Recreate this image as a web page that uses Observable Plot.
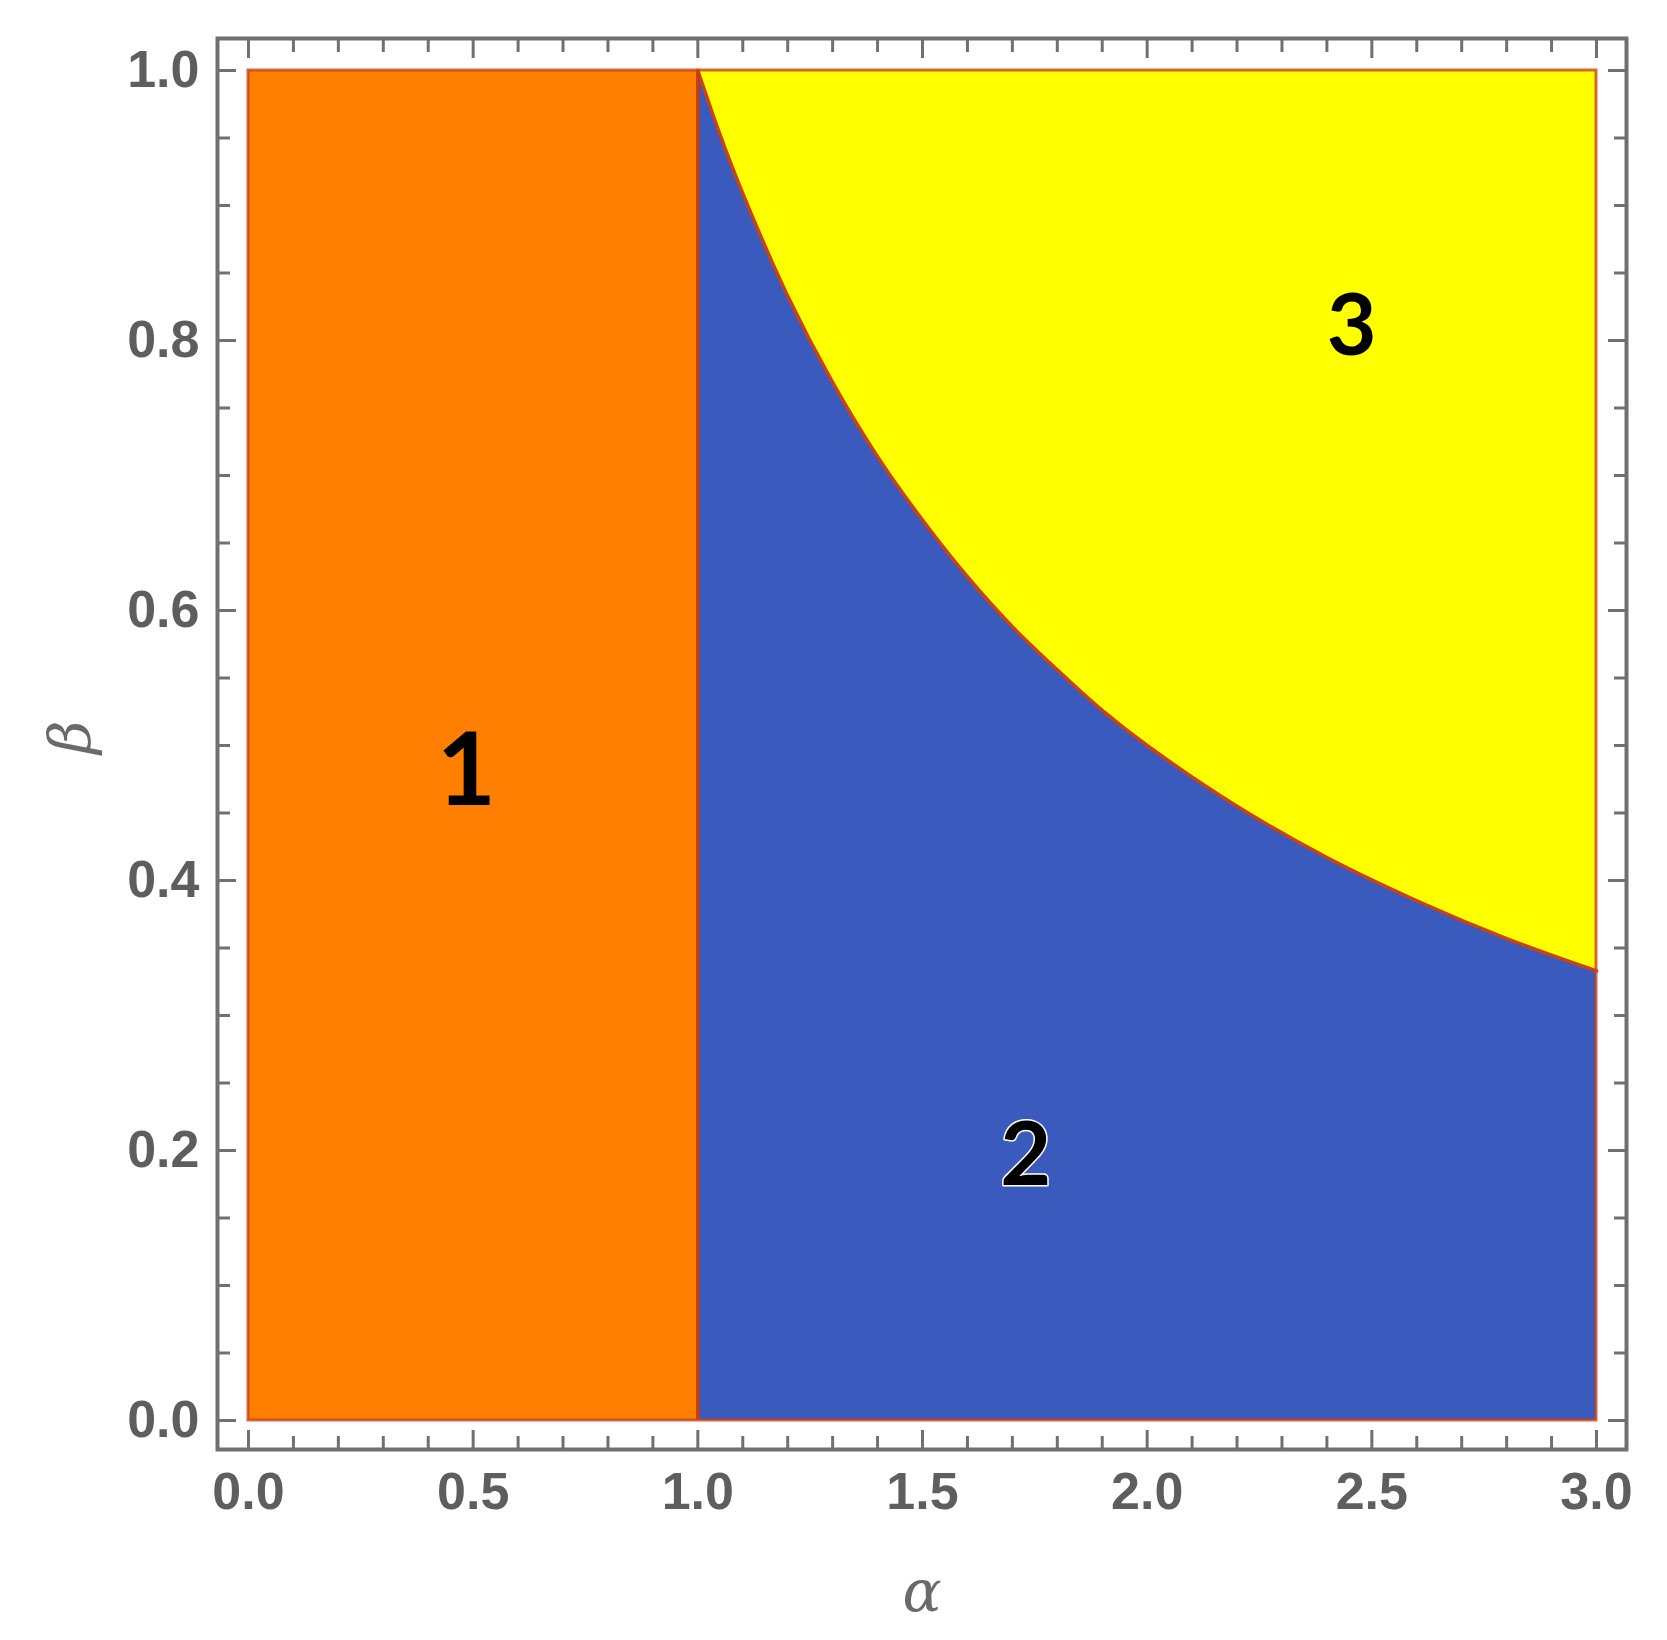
<!DOCTYPE html>
<html>
<head>
<meta charset="utf-8">
<script src="https://cdn.jsdelivr.net/npm/d3@7"></script>
<script src="https://cdn.jsdelivr.net/npm/@observablehq/plot@0.6"></script>
<style>
  body { margin: 0; background: #fff; }
  #chart svg { display: block; }
</style>
</head>
<body>
<div id="chart"></div>
<script>
// ---- data ----
const alphaDomain = [0, 3];
const betaDomain = [0, 1];

// region 1 spans alpha 0..1 for all beta
const region1Alpha = [0, 1];
// boundary between region 2 and region 3 (beta vs alpha)
const boundaryAlpha = [1.0, 1.05, 1.1, 1.2, 1.3, 1.4, 1.5, 1.6, 1.7, 1.8, 1.9, 2.0, 2.2, 2.4, 2.6, 2.8, 3.0];
const boundaryBeta  = [1.0, 0.952, 0.909, 0.833, 0.769, 0.714, 0.667, 0.625, 0.588, 0.556, 0.526, 0.5, 0.455, 0.417, 0.385, 0.357, 0.333];

// region labels
const regionLabels = ["1", "2", "3"];
const labelAlpha = [0.485, 1.73, 2.455];
const labelBeta  = [0.48, 0.195, 0.81];

// ticks
const xMajor = [0, 0.5, 1, 1.5, 2, 2.5, 3];
const xMinor = [0.1, 0.2, 0.3, 0.4, 0.6, 0.7, 0.8, 0.9, 1.1, 1.2, 1.3, 1.4, 1.6, 1.7, 1.8, 1.9,
                2.1, 2.2, 2.3, 2.4, 2.6, 2.7, 2.8, 2.9];
const yMajor = [0, 0.2, 0.4, 0.6, 0.8, 1.0];
const yMinor = [0.05, 0.1, 0.15, 0.25, 0.3, 0.35, 0.45, 0.5, 0.55, 0.65, 0.7, 0.75, 0.85, 0.9, 0.95];

const xTitle = "α";
const yTitle = "β";

// ---- tables ----
const boundary = boundaryAlpha.map((a, i) => ({alpha: a, beta: boundaryBeta[i]}));
const labels = regionLabels.map((t, i) => ({text: t, alpha: labelAlpha[i], beta: labelBeta[i]}));
const region1 = [{a1: region1Alpha[0], a2: region1Alpha[1], b1: betaDomain[0], b2: betaDomain[1]}];
const whole = [{a1: alphaDomain[0], a2: alphaDomain[1], b1: betaDomain[0], b2: betaDomain[1]}];

const ORANGE = "#ff8000", BLUE = "#3a5bbd", YELLOW = "#ffff00", EDGE = "#c8421a";
const AXIS = "#707070", TICKTEXT = "#5e5e5e";
const fmt = d3.format(".1f");

const tickStyle = {stroke: AXIS, strokeWidth: 3, fill: "none", label: null};
const textStyle = {tickSize: 0, fill: TICKTEXT, fontSize: 52, fontWeight: "bold", label: null, tickFormat: fmt};

const chart = Plot.plot({
  width: 1667,
  height: 1640,
  marginLeft: 217,
  marginRight: 41,
  marginTop: 38,
  marginBottom: 191,
  style: {fontFamily: "'Liberation Sans', Arial, sans-serif", background: "#fff"},
  x: {domain: alphaDomain, insetLeft: 31, insetRight: 30},
  y: {domain: betaDomain, insetTop: 32, insetBottom: 29},
  marks: [
    // regions
    Plot.rect(region1, {x1: "a1", x2: "a2", y1: "b1", y2: "b2", fill: ORANGE}),
    Plot.areaY(boundary, {x: "alpha", y1: betaDomain[0], y2: "beta", fill: BLUE, curve: "catmull-rom"}),
    Plot.areaY(boundary, {x: "alpha", y1: "beta", y2: betaDomain[1], fill: YELLOW, curve: "catmull-rom"}),
    // boundaries
    Plot.line(boundary, {x: "alpha", y: "beta", stroke: EDGE, strokeWidth: 3.5, curve: "catmull-rom"}),
    Plot.ruleX([region1Alpha[1]], {y1: betaDomain[0], y2: betaDomain[1], stroke: "#c43c0c", strokeWidth: 3.5}),
    Plot.rect(whole, {x1: "a1", x2: "a2", y1: "b1", y2: "b2", fill: "none", stroke: EDGE, strokeWidth: 3, strokeOpacity: 0.8}),
    // region labels
    Plot.text(labels.filter(d => d.text !== "2"), {x: "alpha", y: "beta", text: "text", fill: "#000",
      fontSize: d => d.text === "1" ? 102 : 86, fontWeight: "bold", fontFamily: "Lato, 'Open Sans', sans-serif"}),
    Plot.text(labels.filter(d => d.text === "2"), {x: "alpha", y: "beta", text: "text", fill: "#000",
      stroke: "#fff", strokeWidth: 3, paintOrder: "stroke",
      fontSize: 88, fontWeight: "bold", fontFamily: "Lato, 'Open Sans', sans-serif"}),
    // frame
    Plot.frame({stroke: AXIS, strokeWidth: 4}),
    // inward ticks on all four sides
    Plot.axisX({anchor: "bottom", ticks: xMinor, tickSize: -13, ...tickStyle}),
    Plot.axisX({anchor: "bottom", ticks: xMajor, tickSize: -19, ...tickStyle}),
    Plot.axisX({anchor: "top", ticks: xMinor, tickSize: -13, ...tickStyle}),
    Plot.axisX({anchor: "top", ticks: xMajor, tickSize: -19, ...tickStyle}),
    Plot.axisY({anchor: "left", ticks: yMinor, tickSize: -13, ...tickStyle}),
    Plot.axisY({anchor: "left", ticks: yMajor, tickSize: -19, ...tickStyle}),
    Plot.axisY({anchor: "right", ticks: yMinor, tickSize: -13, ...tickStyle}),
    Plot.axisY({anchor: "right", ticks: yMajor, tickSize: -19, ...tickStyle}),
    // tick labels
    Plot.axisX({anchor: "bottom", ticks: xMajor, tickPadding: 23, ...textStyle}),
    Plot.axisY({anchor: "left", ticks: yMajor, tickPadding: 18, ...textStyle}),
    // axis titles
    Plot.text([xTitle], {frameAnchor: "bottom", dy: 161, text: d => d, fill: "#6a6a6a",
      fontSize: 58, fontStyle: "italic", fontFamily: "'DejaVu Serif', serif"}),
    Plot.text([yTitle], {frameAnchor: "left", dx: -146, dy: 10, rotate: -90, text: d => d, fill: "#6a6a6a",
      fontSize: 58, fontStyle: "italic", fontFamily: "'DejaVu Serif', serif"})
  ]
});
document.getElementById("chart").appendChild(chart);
</script>
</body>
</html>
